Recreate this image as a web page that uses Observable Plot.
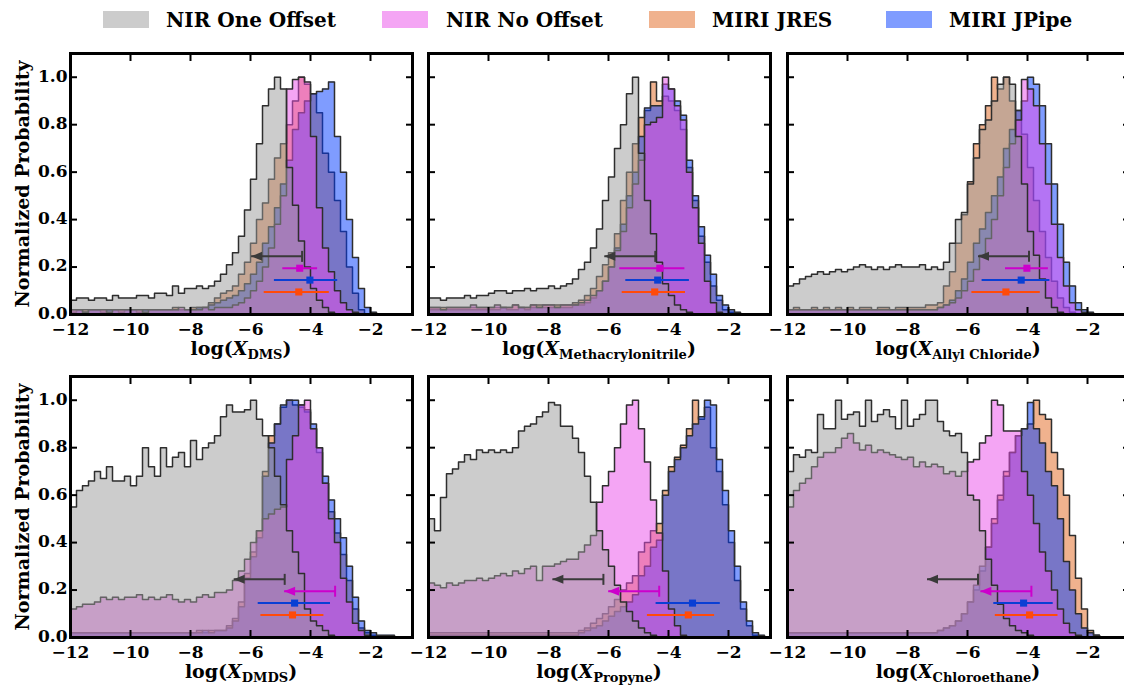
<!DOCTYPE html>
<html>
<head>
<meta charset="utf-8">
<script src="https://cdn.jsdelivr.net/npm/d3@7"></script>
<script src="https://cdn.jsdelivr.net/npm/@observablehq/plot@0.6"></script>
<style>
html, body { margin: 0; padding: 0; background: #fff; overflow: hidden; }
body { width: 1124px; height: 690px; position: relative; font-family: "DejaVu Serif", serif; font-weight: bold; color: #000; }
.sw { position: absolute; width: 46px; height: 17px; top: 11px; opacity: 0.5; }
.lt { position: absolute; top: 10px; font-size: 20px; line-height: 20px; white-space: nowrap; }
.xl { position: absolute; font-size: 19px; line-height: 19px; white-space: nowrap; transform: translateX(-50%); }
.xl i { font-style: italic; }
.xl sub { font-size: 13px; vertical-align: -4px; line-height: 0; font-style: normal; }
.yl { position: absolute; font-size: 19px; line-height: 19px; white-space: nowrap; transform: translate(-50%, -50%) rotate(-90deg); }
svg { position: absolute; }
</style>
</head>
<body>
<div id="root"></div>
<script>
// ---------- data ----------
const seriesKeys = ["nirOne", "nirNo", "jres", "jpipe"];
const seriesNames = ["NIR One Offset", "NIR No Offset", "MIRI JRES", "MIRI JPipe"];
const molecules = ["DMS", "Methacrylonitrile", "Allyl Chloride", "DMDS", "Propyne", "Chloroethane"];
const binStart = -12;
const binWidth = 0.2;
const xTicks = [-12, -10, -8, -6, -4, -2];
const yTicks = [0, 0.2, 0.4, 0.6, 0.8, 1.0];

// normalized histograms, one value per bin starting at -12
const dms_nirOne = [0.06,0.07,0.07,0.06,0.07, 0.07,0.06,0.08,0.07,0.07, 0.07,0.08,0.08,0.07,0.09, 0.09,0.08,0.12,0.09,0.11, 0.11,0.12,0.11,0.12,0.14, 0.17,0.21,0.26,0.33,0.44, 0.57,0.72,0.88,0.95,1.00, 0.95,0.62,0.46,0.31,0.20, 0.11,0.06,0.03,0.01];
const dms_nirNo = [0.02,0.02,0.01,0.02,0.02, 0.02,0.01,0.02,0.02,0.02, 0.02,0.02,0.01,0.02,0.02, 0.02,0.02,0.02,0.03,0.02, 0.02,0.02,0.03,0.02,0.03, 0.03,0.03,0.04,0.05,0.07, 0.10,0.14,0.20,0.28,0.38, 0.50,0.95,0.99,1.00,0.98, 0.75,0.45,0.28,0.18,0.10, 0.05,0.02,0.01];
const dms_jres = [0.02,0.02,0.02,0.02,0.02, 0.02,0.02,0.02,0.02,0.02, 0.02,0.02,0.02,0.02,0.02, 0.02,0.02,0.03,0.02,0.02, 0.03,0.03,0.03,0.05,0.07, 0.09,0.10,0.12,0.17,0.22, 0.30,0.40,0.47,0.57,0.66, 0.72,0.80,0.90,1.00,0.97, 0.93,0.85,0.68,0.60,0.48, 0.35,0.20,0.09,0.02];
const dms_jpipe = [0.01,0.02,0.01,0.02,0.02, 0.01,0.02,0.02,0.01,0.02, 0.02,0.01,0.02,0.02,0.02, 0.02,0.02,0.02,0.02,0.02, 0.02,0.03,0.03,0.04,0.05, 0.06,0.07,0.08,0.10,0.13, 0.17,0.22,0.30,0.37,0.45, 0.55,0.65,0.78,0.85,0.90, 0.93,0.94,0.95,0.98,0.75, 0.60,0.40,0.24,0.11,0.03, 0.01];

const meth_nirOne = [0.07,0.07,0.06,0.07,0.07, 0.07,0.08,0.07,0.08,0.08, 0.09,0.10,0.10,0.09,0.10, 0.10,0.11,0.10,0.11,0.11, 0.12,0.11,0.12,0.13,0.15, 0.19,0.22,0.28,0.36,0.48, 0.58,0.70,0.80,0.93,1.00, 0.68,0.48,0.34,0.22,0.13, 0.08,0.04,0.02,0.01];
const meth_nirNo = [0.03,0.03,0.02,0.03,0.03, 0.03,0.03,0.04,0.03,0.03, 0.03,0.04,0.03,0.03,0.04, 0.03,0.03,0.04,0.03,0.04, 0.04,0.03,0.04,0.04,0.04, 0.05,0.06,0.08,0.10,0.14, 0.20,0.27,0.35,0.45,0.55, 0.65,0.80,0.81,0.83,1.00, 0.95,0.88,0.82,0.60,0.45, 0.30,0.14,0.05,0.01];
const meth_jres = [0.03,0.03,0.03,0.03,0.03, 0.03,0.03,0.03,0.03,0.03, 0.03,0.03,0.03,0.03,0.04, 0.03,0.03,0.04,0.04,0.04, 0.04,0.04,0.04,0.04,0.05, 0.06,0.08,0.11,0.16,0.21, 0.26,0.34,0.48,0.60,0.72, 0.83,0.86,0.98,0.90,0.92, 0.90,0.86,0.78,0.62,0.48, 0.33,0.22,0.12,0.06,0.02, 0.01];
const meth_jpipe = [0.02,0.02,0.02,0.02,0.02, 0.02,0.02,0.02,0.02,0.02, 0.02,0.02,0.03,0.02,0.02, 0.03,0.02,0.03,0.03,0.03, 0.03,0.03,0.03,0.03,0.04, 0.04,0.05,0.07,0.10,0.14, 0.20,0.28,0.38,0.50,0.60, 0.75,0.87,0.88,0.88,0.97, 0.95,0.90,0.84,0.65,0.50, 0.37,0.25,0.17,0.08,0.04, 0.02,0.01];

const allyl_nirOne = [0.12,0.13,0.15,0.16,0.17, 0.18,0.17,0.18,0.19,0.18, 0.19,0.20,0.21,0.20,0.19, 0.20,0.19,0.20,0.21,0.20, 0.20,0.20,0.21,0.19,0.20, 0.19,0.22,0.30,0.40,0.43, 0.55,0.66,0.78,0.82,0.90, 0.97,1.00,0.97,0.75,0.55, 0.35,0.25,0.15,0.07,0.03, 0.01];
const allyl_nirNo = [0.02,0.02,0.02,0.02,0.02, 0.02,0.02,0.02,0.02,0.02, 0.02,0.02,0.02,0.02,0.02, 0.02,0.02,0.02,0.02,0.02, 0.02,0.02,0.02,0.02,0.02, 0.03,0.04,0.05,0.07,0.10, 0.14,0.19,0.25,0.32,0.40, 0.50,0.62,0.72,0.82,0.99, 0.95,0.88,0.72,0.55,0.38, 0.24,0.12,0.05,0.02,0.01];
const allyl_jres = [0.02,0.03,0.02,0.02,0.03, 0.02,0.03,0.02,0.03,0.02, 0.03,0.02,0.03,0.03,0.02, 0.03,0.03,0.02,0.03,0.03, 0.03,0.03,0.03,0.04,0.04, 0.05,0.12,0.18,0.30,0.42, 0.56,0.72,0.80,0.88,1.00, 0.95,1.00,0.90,0.86,0.76, 0.62,0.48,0.35,0.24,0.14, 0.07,0.03,0.01];
const allyl_jpipe = [0.02,0.02,0.02,0.02,0.02, 0.02,0.02,0.02,0.02,0.02, 0.02,0.02,0.02,0.02,0.02, 0.02,0.02,0.02,0.02,0.02, 0.02,0.02,0.02,0.02,0.02, 0.03,0.04,0.06,0.10,0.15, 0.22,0.30,0.36,0.43,0.50, 0.58,0.70,0.78,0.86,0.90, 1.00,0.97,0.88,0.72,0.55, 0.38,0.22,0.12,0.05,0.02, 0.01];

const dmds_nirOne = [0.55,0.62,0.64,0.66,0.70, 0.67,0.72,0.66,0.66,0.68, 0.64,0.68,0.80,0.72,0.68, 0.80,0.72,0.76,0.78,0.72, 0.83,0.75,0.80,0.82,0.85, 0.93,0.98,0.95,0.95,0.96, 1.00,0.92,0.85,0.80,0.68, 0.56,0.45,0.36,0.27,0.12, 0.07,0.05,0.03,0.01];
const dmds_nirNo = [0.12,0.13,0.14,0.14,0.15, 0.17,0.16,0.17,0.16,0.17, 0.17,0.18,0.16,0.17,0.16, 0.17,0.18,0.16,0.15,0.16, 0.15,0.17,0.18,0.17,0.19, 0.19,0.20,0.24,0.28,0.33, 0.40,0.45,0.50,0.52,0.54, 0.55,0.75,0.85,0.98,1.00, 0.88,0.80,0.65,0.50,0.40, 0.25,0.15,0.06,0.03,0.01];
const dmds_jres = [0.02,0.02,0.02,0.02,0.02, 0.02,0.02,0.02,0.02,0.02, 0.02,0.02,0.02,0.02,0.02, 0.02,0.02,0.02,0.02,0.02, 0.02,0.03,0.02,0.03,0.03, 0.03,0.05,0.08,0.15,0.27, 0.36,0.45,0.70,0.85,0.90, 0.97,1.00,0.98,0.97,0.95, 0.88,0.78,0.65,0.53,0.44, 0.35,0.24,0.12,0.04,0.02, 0.01];
const dmds_jpipe = [0.02,0.02,0.02,0.02,0.02, 0.02,0.02,0.02,0.02,0.02, 0.02,0.02,0.02,0.02,0.02, 0.02,0.02,0.02,0.02,0.02, 0.02,0.02,0.03,0.02,0.03, 0.03,0.04,0.07,0.13,0.25, 0.34,0.42,0.68,0.82,0.90, 0.98,1.00,1.00,0.98,0.96, 0.90,0.80,0.68,0.58,0.50, 0.42,0.30,0.17,0.07,0.03, 0.02,0.01,0.01,0.01];

const prop_nirOne = [0.50,0.45,0.59,0.69,0.71, 0.74,0.77,0.75,0.79,0.78, 0.79,0.78,0.79,0.78,0.80, 0.87,0.89,0.90,0.93,0.95, 0.99,0.98,0.89,0.89,0.84, 0.78,0.68,0.57,0.45,0.37, 0.30,0.22,0.15,0.11,0.07, 0.04,0.02,0.01];
const prop_nirNo = [0.23,0.22,0.21,0.23,0.22, 0.23,0.24,0.24,0.25,0.24, 0.25,0.26,0.27,0.26,0.28, 0.27,0.29,0.30,0.24,0.30, 0.30,0.31,0.32,0.33,0.33, 0.36,0.39,0.43,0.57,0.64, 0.70,0.80,0.90,0.98,1.00, 0.88,0.74,0.58,0.44,0.28, 0.12,0.05,0.01];
const prop_jres = [0.02,0.02,0.02,0.02,0.02, 0.02,0.02,0.02,0.02,0.02, 0.02,0.02,0.02,0.02,0.02, 0.02,0.02,0.02,0.02,0.02, 0.02,0.02,0.02,0.02,0.02, 0.03,0.04,0.06,0.08,0.10, 0.13,0.16,0.20,0.23,0.26, 0.36,0.40,0.45,0.48,0.62, 0.72,0.76,0.81,0.88,1.00, 0.92,0.97,0.80,0.70,0.56, 0.40,0.24,0.12,0.05,0.01];
const prop_jpipe = [0.01,0.01,0.01,0.01,0.01, 0.01,0.01,0.01,0.01,0.01, 0.01,0.01,0.01,0.01,0.01, 0.01,0.01,0.01,0.01,0.01, 0.01,0.01,0.01,0.01,0.01, 0.02,0.03,0.04,0.05,0.07, 0.09,0.11,0.13,0.15,0.18, 0.26,0.30,0.38,0.41,0.60, 0.70,0.75,0.80,0.85,0.90, 0.93,1.00,0.98,0.75,0.62, 0.45,0.30,0.15,0.07,0.02, 0.01];

const chloro_nirOne = [0.70,0.77,0.76,0.79,0.78, 0.94,0.88,0.88,1.00,0.92, 0.94,0.95,0.89,1.00,0.91, 0.94,0.96,0.93,0.88,1.00, 0.89,0.92,0.94,1.00,1.00, 0.91,0.87,0.85,0.86,0.78, 0.60,0.58,0.45,0.33,0.22, 0.14,0.08,0.05,0.03,0.02, 0.01];
const chloro_nirNo = [0.55,0.62,0.65,0.67,0.72, 0.76,0.78,0.78,0.80,0.84, 0.86,0.82,0.79,0.81,0.78, 0.79,0.78,0.77,0.76,0.75, 0.76,0.72,0.74,0.72,0.73, 0.72,0.69,0.70,0.68,0.70, 0.74,0.75,0.82,0.85,1.00, 0.98,0.87,0.87,0.87,0.70, 0.60,0.48,0.36,0.28,0.20, 0.12,0.06,0.02,0.01];
const chloro_jres = [0.02,0.02,0.02,0.02,0.02, 0.02,0.02,0.02,0.02,0.02, 0.02,0.02,0.02,0.02,0.02, 0.02,0.02,0.02,0.02,0.02, 0.02,0.02,0.02,0.02,0.02, 0.03,0.04,0.05,0.07,0.10, 0.15,0.20,0.28,0.38,0.50, 0.60,0.70,0.78,0.85,0.88, 0.90,1.00,0.94,0.92,0.78, 0.71,0.60,0.43,0.25,0.12, 0.03,0.01];
const chloro_jpipe = [0.02,0.02,0.02,0.02,0.02, 0.02,0.02,0.02,0.02,0.02, 0.02,0.02,0.02,0.02,0.02, 0.02,0.02,0.02,0.02,0.02, 0.02,0.02,0.02,0.02,0.02, 0.03,0.04,0.05,0.07,0.10, 0.15,0.22,0.30,0.38,0.48, 0.58,0.68,0.78,0.85,0.88, 0.99,0.88,0.82,0.70,0.64, 0.50,0.32,0.20,0.10,0.04, 0.02,0.01];

// retrieved abundances (log mixing ratio) per molecule
const jresMedian  = [-4.39, -4.46, -4.72, -4.60, -3.34, -3.93];
const jresLow     = [-5.56, -5.56, -5.87, -5.67, -4.72, -5.09];
const jresHigh    = [-3.39, -3.45, -3.59, -3.57, -2.48, -3.00];
const jpipeMedian = [-4.02, -4.36, -4.21, -4.53, -3.20, -4.13];
const jpipeLow    = [-5.22, -5.44, -5.53, -5.76, -4.43, -5.14];
const jpipeHigh   = [-3.11, -3.32, -3.27, -3.35, -2.29, -3.16];
const nirNoMedian = [-4.36, -4.29, -4.02, null, null, null];
const nirNoLow    = [-4.94, -5.64, -4.75, null, null, null];
const nirNoHigh   = [-3.78, -3.47, -3.32, null, null, null];
const nirNoUpper  = [null, null, null, -3.18, -4.31, -3.87];
const nirOneUpper = [-4.28, -4.44, -3.95, -4.86, -6.17, -5.65];
const arrowLength = 1.7;
const markerLevel = {nirOne: 0.245, nirNo: 0.195, jpipe: 0.145, jres: 0.095};

// ---------- styles ----------
const fillColor = {nirOne: "#999999", nirNo: "#e94ce9", jres: "#e1651d", jpipe: "#0039ff"};
const markColor = {nirOne: "#3a3a3a", nirNo: "#cc00cc", jres: "#ff4a0a", jpipe: "#0a3fd4"};
const edgeColor = "#2e2e2e";
const frameW = 342, frameH = 261;
const colLeft = [70, 428, 787];
const rowTop = [53, 376];

const hists = [
  {nirOne: dms_nirOne, nirNo: dms_nirNo, jres: dms_jres, jpipe: dms_jpipe},
  {nirOne: meth_nirOne, nirNo: meth_nirNo, jres: meth_jres, jpipe: meth_jpipe},
  {nirOne: allyl_nirOne, nirNo: allyl_nirNo, jres: allyl_jres, jpipe: allyl_jpipe},
  {nirOne: dmds_nirOne, nirNo: dmds_nirNo, jres: dmds_jres, jpipe: dmds_jpipe},
  {nirOne: prop_nirOne, nirNo: prop_nirNo, jres: prop_jres, jpipe: prop_jpipe},
  {nirOne: chloro_nirOne, nirNo: chloro_nirNo, jres: chloro_jres, jpipe: chloro_jpipe}
];

function histPoints(values) {
  const pts = values.map((v, i) => ({x: binStart + i * binWidth, y: v}));
  pts.push({x: binStart + values.length * binWidth, y: 0});
  return pts;
}

const arrowHead = {draw(ctx) { ctx.moveTo(0, 0); ctx.lineTo(11, -4.5); ctx.lineTo(11, 4.5); ctx.closePath(); }};
const capSymbol = {draw(ctx) { ctx.moveTo(0, -5.5); ctx.lineTo(0, 5.5); }};

const root = document.getElementById("root");

// legend
const legendSwatchX = [103, 382, 649, 886];
const legendTextX = [166, 446, 712, 949];
seriesKeys.forEach((k, i) => {
  const sw = document.createElement("div");
  sw.className = "sw"; sw.style.left = legendSwatchX[i] + "px"; sw.style.background = fillColor[k];
  root.appendChild(sw);
  const t = document.createElement("div");
  t.className = "lt"; t.style.left = legendTextX[i] + "px"; t.textContent = seriesNames[i];
  root.appendChild(t);
});

const drawOrder = ["jres", "jpipe", "nirNo", "nirOne"];

molecules.forEach((mol, p) => {
  const col = p % 3, row = Math.floor(p / 3);
  const mL = col === 0 ? 48 : 6, mR = 6, mT = 6, mB = 28;
  const marks = [];
  for (const k of drawOrder) {
    const pts = histPoints(hists[p][k]);
    marks.push(Plot.areaY(pts, {x: "x", y: "y", curve: "step-after", fill: fillColor[k], fillOpacity: 0.5}));
    marks.push(Plot.lineY(pts, {x: "x", y: "y", curve: "step-after", stroke: edgeColor, strokeWidth: 1.5}));
  }
  // error bars
  const bars = [];
  bars.push({k: "jres", x: jresMedian[p], lo: jresLow[p], hi: jresHigh[p], y: markerLevel.jres});
  bars.push({k: "jpipe", x: jpipeMedian[p], lo: jpipeLow[p], hi: jpipeHigh[p], y: markerLevel.jpipe});
  const limits = [{k: "nirOne", lim: nirOneUpper[p], y: markerLevel.nirOne}];
  if (nirNoMedian[p] != null) bars.push({k: "nirNo", x: nirNoMedian[p], lo: nirNoLow[p], hi: nirNoHigh[p], y: markerLevel.nirNo});
  else limits.push({k: "nirNo", lim: nirNoUpper[p], y: markerLevel.nirNo});

  marks.push(Plot.link(limits, {x1: "lim", x2: d => d.lim - arrowLength, y1: "y", y2: "y", stroke: d => markColor[d.k], strokeWidth: 2}));
  marks.push(Plot.dot(limits, {x: "lim", y: "y", symbol: capSymbol, r: 5, stroke: d => markColor[d.k], strokeWidth: 2, fill: "none"}));
  marks.push(Plot.dot(limits, {x: d => d.lim - arrowLength, y: "y", symbol: arrowHead, r: 5, fill: d => markColor[d.k], stroke: "none"}));
  marks.push(Plot.link(bars, {x1: "lo", x2: "hi", y1: "y", y2: "y", stroke: d => markColor[d.k], strokeWidth: 2}));
  marks.push(Plot.dot(bars, {x: "x", y: "y", symbol: "square", r: 4, fill: d => markColor[d.k], stroke: "none"}));

  // axes: inward ticks on all sides
  marks.push(Plot.axisX({anchor: "bottom", ticks: xTicks, tickSize: 7, dy: -7, fill: "none", stroke: "black", strokeWidth: 2, label: null}));
  marks.push(Plot.axisX({anchor: "top", ticks: xTicks, tickSize: 7, dy: 7, fill: "none", stroke: "black", strokeWidth: 2, label: null}));
  marks.push(Plot.axisY({anchor: "left", ticks: yTicks, tickSize: 7, dx: 7, fill: "none", stroke: "black", strokeWidth: 2, label: null}));
  marks.push(Plot.axisY({anchor: "right", ticks: yTicks, tickSize: 7, dx: -7, fill: "none", stroke: "black", strokeWidth: 2, label: null}));
  marks.push(Plot.axisX({anchor: "bottom", ticks: xTicks, tickSize: 0, tickPadding: 8, tickFormat: d3.format("d"), label: null, fill: "black", fontSize: 17, fontWeight: "bold"}));
  if (col === 0) marks.push(Plot.axisY({anchor: "left", ticks: yTicks, tickSize: 0, tickPadding: 3, dy: -1, tickFormat: d3.format(".1f"), label: null, fill: "black", fontSize: 17, fontWeight: "bold"}));
  marks.push(Plot.frame({stroke: "black", strokeWidth: 3}));

  const svg = Plot.plot({
    width: mL + frameW + mR, height: mT + frameH + mB,
    marginLeft: mL, marginRight: mR, marginTop: mT, marginBottom: mB,
    x: {domain: [-12, -0.6]},
    y: {domain: [0, 1.1]},
    style: {fontFamily: "'DejaVu Serif', serif", fontWeight: "bold", fontSize: "17px", background: "transparent", color: "black", overflow: "visible"},
    marks
  });
  svg.style.left = (colLeft[col] - mL) + "px";
  svg.style.top = (rowTop[row] - mT) + "px";
  root.appendChild(svg);

  const xl = document.createElement("div");
  xl.className = "xl";
  xl.style.left = (colLeft[col] + frameW / 2) + "px";
  xl.style.top = (rowTop[row] + frameH + 25) + "px";
  xl.innerHTML = "log(<i>X</i><sub></sub>)";
  xl.querySelector("sub").textContent = mol;
  root.appendChild(xl);
});

[0, 1].forEach(row => {
  const yl = document.createElement("div");
  yl.className = "yl";
  yl.style.left = "22px";
  yl.style.top = (rowTop[row] + frameH / 2) + "px";
  yl.textContent = "Normalized Probability";
  root.appendChild(yl);
});
</script>
</body>
</html>
